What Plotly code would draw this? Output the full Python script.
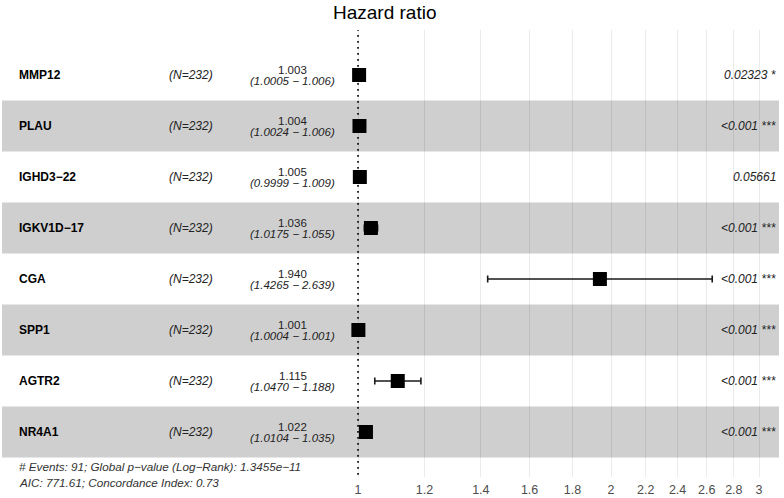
import plotly.graph_objects as go

# data
genes = ['MMP12', 'PLAU', 'IGHD3−22', 'IGKV1D−17', 'CGA', 'SPP1', 'AGTR2', 'NR4A1']
n_obs = [232, 232, 232, 232, 232, 232, 232, 232]
hr = [1.003, 1.004, 1.005, 1.036, 1.940, 1.001, 1.115, 1.022]
ci_low = [1.0005, 1.0024, 0.9999, 1.0175, 1.4265, 1.0004, 1.0470, 1.0104]
ci_high = [1.006, 1.006, 1.009, 1.055, 2.639, 1.001, 1.188, 1.035]
p_text = ['0.02323 *', '<0.001 ***', '0.05661', '<0.001 ***',
          '<0.001 ***', '<0.001 ***', '<0.001 ***', '<0.001 ***']
tick_vals = [1, 1.2, 1.4, 1.6, 1.8, 2, 2.2, 2.4, 2.6, 2.8, 3]
tick_text = ['1', '1.2', '1.4', '1.6', '1.8', '2', '2.2', '2.4', '2.6', '2.8', '3']
footer = ['# Events: 91; Global p−value (Log−Rank): 1.3455e−11',
          'AIC: 771.61; Concordance Index: 0.73']

rows = list(range(len(genes)))
FONT = 'Liberation Sans, Arial, sans-serif'

fig = go.Figure()

# 参考线 HR = 1
fig.add_trace(go.Scatter(
    x=[1, 1], y=[-0.9, 7.9],
    mode='lines',
    line=dict(color='black', width=1.6, dash='1.6px,4.4px'),
    hoverinfo='skip', showlegend=False
))

# 点估计 + 置信区间
fig.add_trace(go.Scatter(
    x=hr, y=rows,
    mode='markers',
    marker=dict(symbol='square', size=14, color='black'),
    error_x=dict(type='data', symmetric=False,
                 array=[h - m for h, m in zip(ci_high, hr)],
                 arrayminus=[m - l for m, l in zip(hr, ci_low)],
                 color='#1a1a1a', thickness=1.6, width=3.5),
    hoverinfo='skip', showlegend=False
))

shapes = []
annotations = []
for i in rows:
    if i % 2 == 1:
        shapes.append(dict(type='rect', xref='paper', yref='y',
                           x0=0, x1=1, y0=i - 0.5, y1=i + 0.5,
                           fillcolor='#cfcfcf', line=dict(width=0), layer='below'))
    annotations.append(dict(x=0.0193, y=i, xref='paper', yref='y', xanchor='left', yanchor='middle',
                            text=f'<b>{genes[i]}</b>', showarrow=False,
                            font=dict(family=FONT, size=12, color='black')))
    annotations.append(dict(x=0.2432, y=i, xref='paper', yref='y', xanchor='center', yanchor='middle',
                            text=f'<i>(N={n_obs[i]})</i>', showarrow=False,
                            font=dict(family=FONT, size=12, color='#222')))
    annotations.append(dict(x=0.3745, y=i - 0.1, xref='paper', yref='y', xanchor='center', yanchor='middle',
                            text=f'{hr[i]:.3f}', showarrow=False,
                            font=dict(family=FONT, size=11.5, color='#222')))
    annotations.append(dict(x=0.3745, y=i + 0.12, xref='paper', yref='y', xanchor='center', yanchor='middle',
                            text=f'<i>({ci_low[i]:.4f} − {ci_high[i]:.3f})</i>', showarrow=False,
                            font=dict(family=FONT, size=11.5, color='#222')))
    annotations.append(dict(x=0.9987, y=i, xref='paper', yref='y', xanchor='right', yanchor='middle',
                            text=f'<i>{p_text[i]}</i>', showarrow=False,
                            font=dict(family=FONT, size=12, color='#222')))

annotations.append(dict(x=0.493, y=1.04, xref='paper', yref='paper', xanchor='center', yanchor='middle',
                        text='Hazard ratio', showarrow=False,
                        font=dict(family=FONT, size=19, color='black')))
annotations.append(dict(x=0.0193, y=0.023, xref='paper', yref='paper', xanchor='left', yanchor='middle',
                        text=f'<i>{footer[0]}</i>', showarrow=False,
                        font=dict(family=FONT, size=11.7, color='#333')))
annotations.append(dict(x=0.0193, y=-0.0112, xref='paper', yref='paper', xanchor='left', yanchor='middle',
                        text=f'<i>{footer[1]}</i>', showarrow=False,
                        font=dict(family=FONT, size=11.7, color='#333')))

fig.update_layout(
    width=784, height=498,
    margin=dict(l=2, r=5, t=30, b=21),
    paper_bgcolor='white',
    plot_bgcolor='white',
    shapes=shapes,
    annotations=annotations,
    xaxis=dict(type='log', range=[-0.4236, 0.5009],
               tickvals=tick_vals, ticktext=tick_text,
               showgrid=True, gridcolor='rgba(0,0,0,0.08)', gridwidth=1,
               zeroline=False, showline=False,
               ticks='outside', ticklen=1, tickcolor='rgba(0,0,0,0)',
               tickfont=dict(family=FONT, size=12.5, color='#4d4d4d'),
               automargin=False, fixedrange=True),
    yaxis=dict(range=[7.882, -0.882], showgrid=False, zeroline=False,
               showticklabels=False, showline=False, automargin=False,
               fixedrange=True),
)

fig.write_html("out.html", config={'displayModeBar': False},
               post_script="document.body.style.margin='0';document.body.style.overflow='hidden';")
